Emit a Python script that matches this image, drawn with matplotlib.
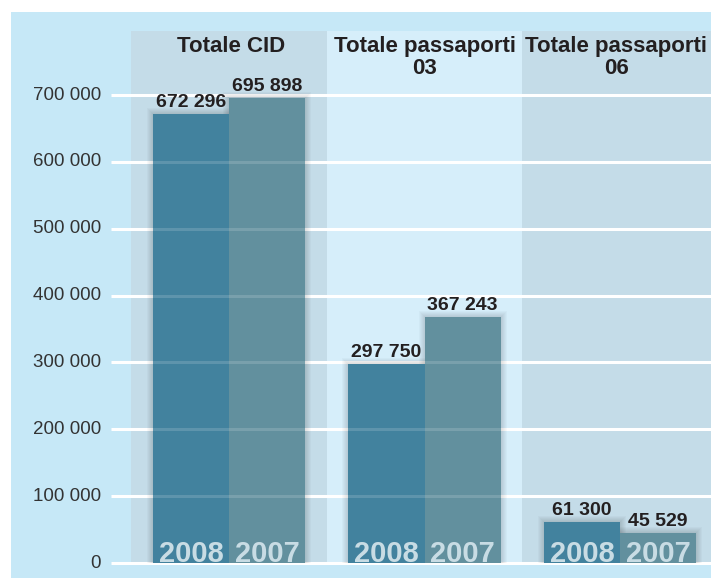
import matplotlib.pyplot as plt

# data
groups = ['Totale CID', 'Totale passaporti\n03', 'Totale passaporti\n06']
years = ['2008', '2007']
vals_2008 = [672296, 297750, 61300]
vals_2007 = [695898, 367243, 45529]
value_labels_2008 = ['672 296', '297 750', '61 300']
value_labels_2007 = ['695 898', '367 243', '45 529']
yticks = [0, 100000, 200000, 300000, 400000, 500000, 600000, 700000]
ytick_labels = ['0', '100 000', '200 000', '300 000', '400 000', '500 000', '600 000', '700 000']

# colours
bg = '#c6e8f7'
band_dark = '#c4dce8'
band_light = '#d6eefa'
c2008 = '#42829e'
c2007 = '#62909e'
year_col = '#c8dce4'
txt = '#231f20'

# pixel -> data scales (axes covers 700 x 566 px)
px_x = 1 / 195.5
px_y = 700000 / 468

fig = plt.figure(figsize=(7.11, 5.78), dpi=100, facecolor='white')
ax = fig.add_axes([11 / 711, 0, 700 / 711, 566 / 578])
ax.set_facecolor(bg)
ax.set_xlim(-1.115, 2.465)
ax.set_ylim(-15 * px_y, 551 * px_y)
ax.axis('off')
ax.add_patch(plt.Rectangle((0, 0), 1, 1, transform=ax.transAxes, color=bg, zorder=0))

x = list(range(len(groups)))
band_top = 532 * px_y
ax.bar(x, [band_top] * 3, width=1.0, color=[band_dark, band_light, band_dark], zorder=1)

grid_x0 = (111 - 229) * px_x
ax.hlines(yticks, grid_x0, 2.465, colors='white', lw=2.2, zorder=2)

for t, lab in zip(yticks, ytick_labels):
    ax.text((101 - 229) * px_x, t, lab, ha='right', va='center', fontsize=13.5,
            color='#333333', family='Liberation Sans')

bw = 0.39
x08 = [i - bw / 2 for i in x]
x07 = [i + bw / 2 for i in x]

# soft shadow round the bars
for e in range(1, 7):
    for xs, vs in ((x08, vals_2008), (x07, vals_2007)):
        ax.bar(xs, [v + e * px_y for v in vs], width=bw + 2 * e * px_x,
               color='black', alpha=0.025, zorder=3, lw=0)

ax.bar(x08, vals_2008, width=bw, color=c2008, zorder=4, lw=0)
ax.bar(x07, vals_2007, width=bw, color=c2007, zorder=4, lw=0)
ax.hlines(yticks[1:], grid_x0, 2.465, colors='white', lw=2.2, alpha=0.15, zorder=5)

for xs, vs, labs in ((x08, vals_2008, value_labels_2008), (x07, vals_2007, value_labels_2007)):
    for xi, v, lab in zip(xs, vs, labs):
        ax.text(xi, v + 7 * px_y, lab, ha='center', va='baseline', fontsize=14,
                fontweight='bold', color=txt, family='Liberation Sans', zorder=6)

for xs, yr in ((x08, years[0]), (x07, years[1])):
    for xi in xs:
        ax.text(xi, 1 * px_y, yr, ha='center', va='baseline', fontsize=21,
                fontweight='bold', color=year_col, family='Liberation Sans', zorder=6)

title_dx = [0.01, 0.0, -0.02]
for i, g, dx in zip(x, groups, title_dx):
    for k, line in enumerate(g.split('\n')):
        ax.text(i + dx, (563 - 52 - 22 * k) * px_y, line, ha='center', va='baseline',
                fontsize=16, fontweight='bold', color=txt, family='Liberation Sans', zorder=6)

fig.savefig('out.png', dpi=100, facecolor='white')
